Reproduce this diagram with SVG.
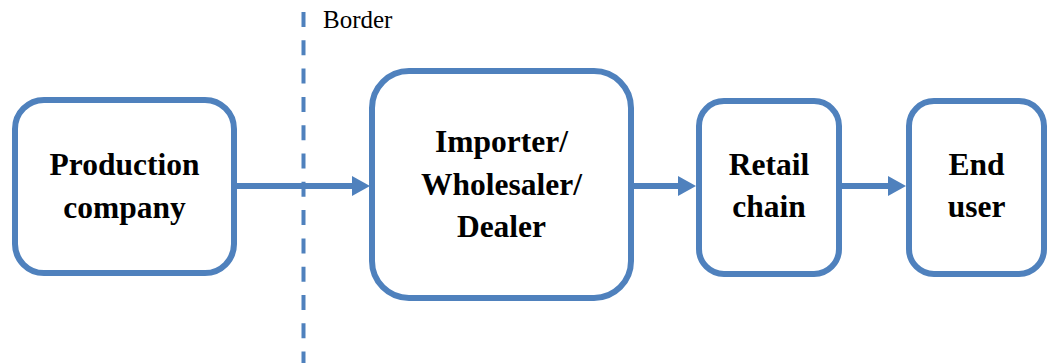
<svg xmlns="http://www.w3.org/2000/svg" width="1048" height="363" viewBox="0 0 1048 363">
<style>
.box{fill:#fff;stroke:#4F81BD;stroke-width:6}
.lbl{font-family:'Liberation Serif','Times New Roman',serif;font-weight:bold;font-size:31.5px;fill:#000;text-anchor:middle}
.brd{font-family:'Liberation Serif','Times New Roman',serif;font-size:25px;fill:#000}
.conn{stroke:#4F81BD;stroke-width:6;fill:none}
.head{fill:#4F81BD}
</style>
<rect width="1048" height="363" fill="#fff"/>
<g id="border">
<line x1="303.5" y1="12" x2="303.5" y2="363" stroke="#4F81BD" stroke-width="4" stroke-dasharray="15 13.3"/>
<text class="brd" x="323" y="28">Border</text>
</g>
<g id="connectors">
<line class="conn" x1="237" y1="186" x2="354" y2="186"/>
<polygon class="head" points="352,176 370,186 352,196"/>
<line class="conn" x1="634" y1="186" x2="680" y2="186"/>
<polygon class="head" points="678,176 696,186 678,196"/>
<line class="conn" x1="842" y1="186" x2="890" y2="186"/>
<polygon class="head" points="888,176 906,186 888,196"/>
</g>
<g id="production">
<rect class="box" x="15" y="100" width="219" height="173" rx="29"/>
<text class="lbl" x="124.5" y="175">Production</text>
<text class="lbl" x="124.5" y="218">company</text>
</g>
<g id="importer">
<rect class="box" x="372" y="71" width="259" height="227" rx="37"/>
<text class="lbl" x="501.5" y="152">Importer/</text>
<text class="lbl" x="501.5" y="195">Wholesaler/</text>
<text class="lbl" x="501.5" y="237">Dealer</text>
</g>
<g id="retail">
<rect class="box" x="699" y="101" width="140" height="173" rx="25"/>
<text class="lbl" x="769" y="175">Retail</text>
<text class="lbl" x="769" y="217">chain</text>
</g>
<g id="enduser">
<rect class="box" x="909" y="101" width="135" height="173" rx="25"/>
<text class="lbl" x="976.5" y="175">End</text>
<text class="lbl" x="976.5" y="217">user</text>
</g>
</svg>
